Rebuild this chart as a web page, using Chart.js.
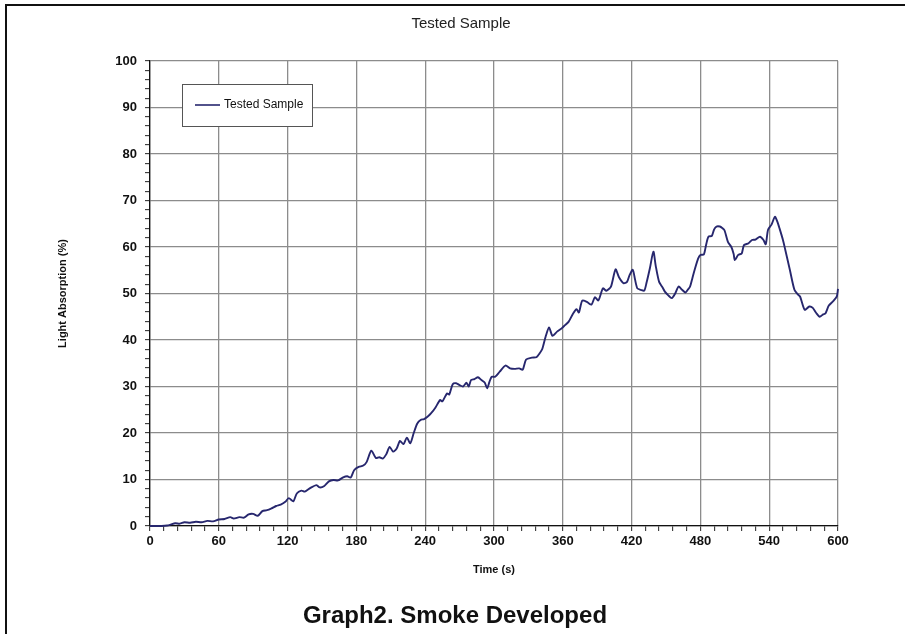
<!DOCTYPE html>
<html>
<head>
<meta charset="utf-8">
<script src="https://cdn.jsdelivr.net/npm/chart.js@4.4.0/dist/chart.umd.min.js"></script>
<style>
    body { margin: 0; background: #fff; }
    #wrap { position: relative; width: 905px; height: 634px; overflow: hidden; font-family: "Liberation Sans", Arial, sans-serif; }
    #frame { position: absolute; left: 5px; top: 4px; right: -10px; bottom: -10px; border-top: 2px solid #111; border-left: 2px solid #111; }
    #title { position: absolute; top: 14px; left: 0; width: 922px; text-align: center; font-size: 15px; color: #222; }
    #caption { position: absolute; top: 601px; left: 0; width: 910px; text-align: center; font-size: 24px; font-weight: bold; color: #111; line-height: 28px; }
    #chart { position: absolute; left: 0; top: 0; }
</style>
</head>
<body>
<div id="wrap">
    <div id="frame"></div>
    <canvas id="chart" width="905" height="634"></canvas>
    <div id="title">Tested Sample</div>
    <div id="caption">Graph2. Smoke Developed</div>
</div>
<script>
// Smoke test curve
let seriesLabel = 'Tested Sample';
let times = [0, 5, 10, 15, 18, 22, 26, 30, 35, 40, 45, 50, 55, 60, 65, 70, 73, 78, 82, 86,
    90, 94, 98, 102, 106, 110, 114, 118, 121, 125, 128, 132, 135, 140, 145, 148, 152, 156, 160, 164,
    168, 172, 175, 178, 182, 186, 189, 193, 197, 200, 203, 206, 209, 212, 215, 218, 221, 224, 227, 230,
    233, 236, 239, 242, 245, 249, 253, 255, 259, 261, 264, 267, 270, 273, 276, 278, 280, 283, 286, 289,
    292, 294, 296, 298, 301, 305, 310, 314, 318, 322, 325, 328, 333, 337, 340, 342, 345, 348, 351, 355,
    359, 362, 365, 369, 372, 374, 377, 381, 385, 388, 391, 395, 398, 402, 406, 409, 413, 416, 418, 421,
    423, 425, 428, 431, 433, 436, 439, 441, 444, 447, 449, 452, 455, 458, 461, 464, 467, 469, 471, 473,
    475, 478, 480, 483, 485, 487, 490, 492, 494, 497, 499, 501, 504, 507, 509, 510, 513, 516, 518, 522,
    525, 528, 532, 535, 537, 539, 542, 545, 547, 549, 552, 554, 558, 562, 565, 567, 571, 575, 578, 581,
    584, 587, 589, 592, 596, 599, 600];
let values = [0, 0, 0, 0.1, 0.3, 0.6, 0.5, 0.8, 0.7, 0.9, 0.8, 1.1, 1.0, 1.4, 1.5, 1.9, 1.6, 1.9, 1.8, 2.5,
    2.6, 2.2, 3.2, 3.4, 3.8, 4.3, 4.6, 5.2, 6.0, 5.3, 7.0, 7.6, 7.4, 8.2, 8.8, 8.3, 8.6, 9.6, 9.9, 9.8,
    10.4, 10.7, 10.4, 12.0, 12.7, 13.0, 13.8, 16.2, 14.6, 14.8, 14.5, 15.4, 17.0, 16.0, 16.6, 18.3, 17.6, 19.0, 17.8, 20.0,
    22.0, 22.8, 23.0, 23.5, 24.2, 25.5, 27.1, 26.8, 28.5, 28.3, 30.5, 30.7, 30.3, 30.0, 30.8, 30.0, 31.4, 31.6, 32.0, 31.4,
    30.8, 29.6, 31.0, 32.1, 32.1, 33.2, 34.5, 33.9, 33.8, 33.9, 33.6, 35.8, 36.2, 36.3, 37.2, 38.0, 40.7, 42.7, 40.9, 41.8,
    42.5, 43.2, 43.9, 45.7, 46.6, 45.9, 48.5, 48.2, 47.6, 49.2, 48.5, 51.1, 50.6, 51.5, 55.2, 53.5, 52.2, 52.5, 53.8, 55.1,
    53.0, 51.1, 50.8, 50.6, 52.3, 55.5, 59.0, 56.0, 52.5, 51.3, 50.4, 49.6, 49.0, 50.0, 51.5, 50.8, 50.2, 50.8, 51.5, 53.3,
    55.1, 57.5, 58.3, 58.4, 60.5, 62.2, 62.4, 63.8, 64.4, 64.4, 64.1, 63.6, 61.1, 60.0, 58.5, 57.2, 58.3, 58.6, 60.4, 60.8,
    61.5, 61.6, 62.2, 61.5, 60.6, 63.7, 64.8, 66.5, 65.5, 64.0, 61.5, 59.4, 55.1, 50.8, 49.8, 49.3, 46.5, 47.2, 46.9, 45.8,
    45.0, 45.5, 45.7, 47.4, 48.4, 49.4, 51.0];

let lineColor = '#27276e';
let gridColor = '#8c8c8c';

Chart.defaults.font.family = '"Liberation Sans", Arial, sans-serif';

// legend sits inside the plot, drawn by hand
const legendBox = {
    id: 'legendBox',
    afterDraw(chart) {
        const { ctx, chartArea } = chart;
        const ds = chart.data.datasets[0];
        const x = chartArea.left + 32, y = chartArea.top + 23, w = 130, h = 42;
        ctx.save();
        ctx.fillStyle = '#fff';
        ctx.fillRect(x, y, w, h);
        ctx.strokeStyle = '#555';
        ctx.lineWidth = 1;
        ctx.strokeRect(x + 0.5, y + 0.5, w, h);
        ctx.strokeStyle = ds.borderColor;
        ctx.lineWidth = 1.6;
        ctx.beginPath();
        ctx.moveTo(x + 13, y + 21);
        ctx.lineTo(x + 38, y + 21);
        ctx.stroke();
        ctx.fillStyle = '#111';
        ctx.font = '12px "Liberation Sans", Arial, sans-serif';
        ctx.textBaseline = 'middle';
        ctx.fillText(ds.label, x + 42, y + 21);
        ctx.restore();
    }
};

let ctx = document.getElementById('chart').getContext('2d');

new Chart(ctx, {
    type: 'line',
    data: {
        datasets: [{
            label: seriesLabel,
            data: times.map((t, i) => ({ x: t, y: values[i] })),
            borderColor: lineColor,
            borderWidth: 1.9,
            pointRadius: 0,
            tension: 0.25,
            fill: false,
            clip: 4
        }]
    },
    options: {
        responsive: false,
        animation: false,
        layout: { padding: { left: 52, top: 61, right: 67, bottom: 53 } },
        plugins: {
            legend: { display: false },
            title: { display: false },
            tooltip: { enabled: false }
        },
        scales: {
            x: {
                type: 'linear',
                min: 0,
                max: 600,
                ticks: {
                    stepSize: 12,
                    autoSkip: false,
                    maxRotation: 0,
                    padding: 3,
                    color: '#111',
                    font: { size: 13, weight: 'bold' },
                    callback: (v) => v % 60 === 0 ? v : ''
                },
                grid: {
                    color: (c) => c.tick && c.tick.value % 60 === 0 ? gridColor : 'rgba(0,0,0,0)',
                    lineWidth: 1.3,
                    tickLength: 5,
                    tickColor: '#222',
                    tickWidth: 1
                },
                border: { color: '#111', width: 1.3 },
                title: {
                    display: true,
                    text: 'Time (s)',
                    color: '#111',
                    font: { size: 11, weight: 'bold' },
                    padding: { top: 4, bottom: 4 }
                },
                afterFit: (s) => { s.height = 55; }
            },
            y: {
                min: 0,
                max: 100,
                ticks: {
                    stepSize: 2,
                    autoSkip: false,
                    padding: 8,
                    color: '#111',
                    font: { size: 13, weight: 'bold' },
                    callback: (v) => v % 10 === 0 ? v : ''
                },
                grid: {
                    color: (c) => c.tick && c.tick.value % 10 === 0 ? gridColor : 'rgba(0,0,0,0)',
                    lineWidth: 1.3,
                    tickLength: 5,
                    tickColor: '#222',
                    tickWidth: 1
                },
                border: { color: '#111', width: 1.3 },
                title: {
                    display: true,
                    text: 'Light Absorption (%)',
                    color: '#111',
                    font: { size: 11, weight: 'bold' },
                    padding: { top: 4, bottom: 4 }
                },
                afterFit: (s) => { s.width = 98; }
            }
        }
    },
    plugins: [legendBox]
});
</script>
</body>
</html>
